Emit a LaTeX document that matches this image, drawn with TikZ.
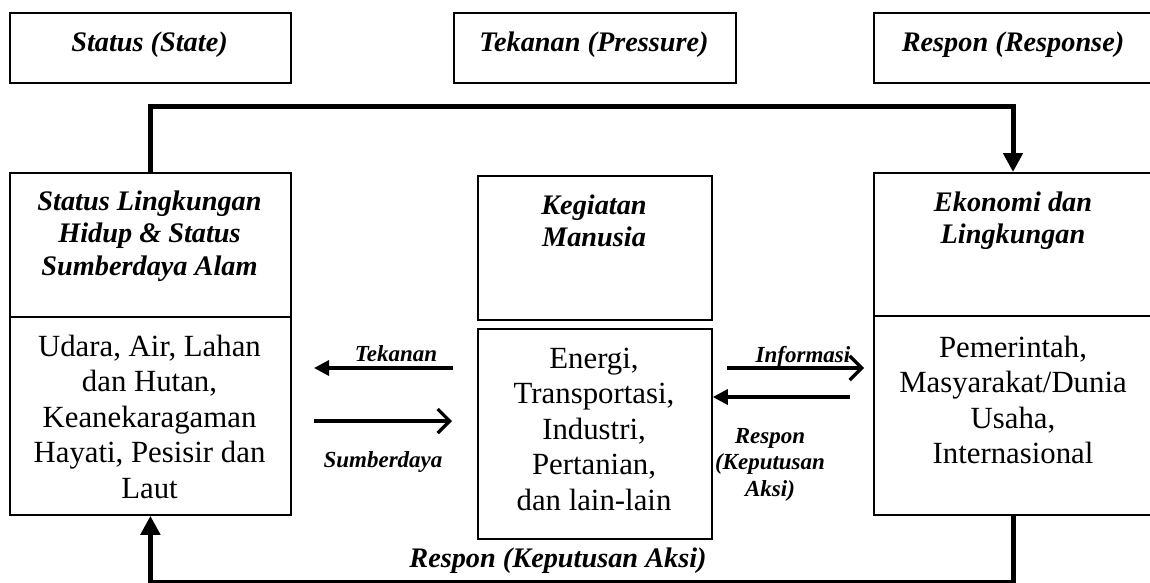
\documentclass[tikz,border=0pt]{standalone}
\usepackage{fontspec}
\setmainfont{Liberation Serif}
\usetikzlibrary{arrows.meta}
\begin{document}
\begin{tikzpicture}[x=1pt,y=-1pt,
  box/.style={draw, line width=1.8pt, inner sep=0pt, anchor=north west},
  ttl/.style={font=\fontsize{28.3}{32.5}\selectfont\bfseries\itshape, align=center, inner sep=0pt, anchor=base},
  body/.style={font=\fontsize{30.8}{35.5}\selectfont, align=center, inner sep=0pt, anchor=base},
  lbl/.style={font=\fontsize{23}{26.5}\selectfont\bfseries\itshape, align=center, inner sep=0pt, anchor=base},
  conn/.style={line width=5pt, -{Triangle[length=19pt,width=19pt]}},
  farrow/.style={line width=3.3pt, -{Triangle[length=15pt,width=15pt]}},
  oarrow/.style={line width=3.3pt, -{Straight Barb[length=12pt,width=24pt]}}]
\useasboundingbox (0,0) rectangle (1150,582);
\clip (0,0) rectangle (1150,582);
% header boxes
\node[box, minimum width=281pt, minimum height=70pt] (stateHdr) at (9,12) {};
\node[box, minimum width=282pt, minimum height=70pt] (pressHdr) at (453,12) {};
\node[box, minimum width=300pt, minimum height=70pt] (respHdr) at (873,12) {};
\node[ttl] (stateTxt) at (149.5,51) {Status (State)};
\node[ttl] (pressTxt) at (594,51) {Tekanan (Pressure)};
\node[ttl] (respTxt) at (1013,51) {Respon (Response)};
% main boxes
\node[box, minimum width=281pt, minimum height=144pt] (leftTop) at (9,172) {};
\node[box, minimum width=281pt, minimum height=198pt] (leftBot) at (9,316) {};
\node[box, minimum width=234pt, minimum height=144pt] (midTop) at (477,175) {};
\node[box, minimum width=234pt, minimum height=210pt] (midBot) at (477,328) {};
\node[box, minimum width=300pt, minimum height=143pt] (rightTop) at (873,172) {};
\node[box, minimum width=300pt, minimum height=199pt] (rightBot) at (873,315) {};
% texts (base anchor = baseline of last line)
\node[ttl] (leftTitle) at (149.5,275) {Status Lingkungan\\Hidup \& Status\\Sumberdaya Alam};
\node[body] (leftBody) at (149.5,498) {Udara, Air, Lahan\\dan Hutan,\\Keanekaragaman\\Hayati, Pesisir dan\\Laut};
\node[ttl] (midTitle) at (594,246.5) {Kegiatan\\Manusia};
\node[body] (midBody) at (594,510) {Energi,\\Transportasi,\\Industri,\\Pertanian,\\dan lain-lain};
\node[ttl] (rightTitle) at (1013,243.5) {Ekonomi dan\\Lingkungan};
\node[body] (rightBody) at (1013,463.5) {Pemerintah,\\Masyarakat/Dunia\\Usaha,\\Internasional};
% top and bottom connectors
\coordinate (tr) at (1013,106);
\draw[conn] (leftTop.north) |- (tr) -- (tr |- rightTop.north);
\coordinate (br) at (1013,582);
\draw[conn] (br |- rightBot.south) -- (br) -| (leftBot.south);
\node[ttl] (bottomLbl) at (558,567) {Respon (Keputusan Aksi)};
% side arrows
\coordinate (tekS) at (453,368);
\coordinate (tekE) at (314,368);
\draw[farrow] (tekS) -- (tekE);
\node[lbl] (tekLbl) at (396,361) {Tekanan};
\coordinate (sumS) at (314,421);
\coordinate (sumE) at (452,421);
\draw[oarrow] (sumS) -- (sumE);
\node[lbl] (sumLbl) at (383,467) {Sumberdaya};
\coordinate (infS) at (727,368);
\coordinate (infE) at (864,368);
\draw[oarrow] (infS) -- (infE);
\node[lbl] (infLbl) at (803,362) {Informasi};
\coordinate (resS) at (850,397);
\draw[farrow] (resS) -- (resS -| midBot.east);
\node[lbl] (resLbl) at (770,496) {Respon\\(Keputusan\\Aksi)};
\end{tikzpicture}
\end{document}
